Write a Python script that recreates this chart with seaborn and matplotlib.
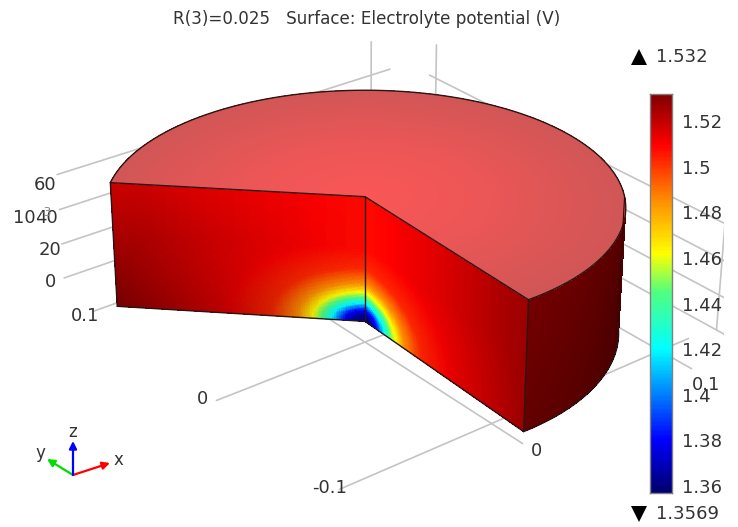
import numpy as np
import matplotlib
matplotlib.use('Agg')
import matplotlib.pyplot as plt
import seaborn as sns
from matplotlib.colors import LinearSegmentedColormap, Normalize

# value range and colour bar
v_min = 1.3569
v_max = 1.532
cbar_ticks = [1.36, 1.38, 1.40, 1.42, 1.44, 1.46, 1.48, 1.50, 1.52]
cbar_labels = ['1.36', '1.38', '1.4', '1.42', '1.44', '1.46', '1.48', '1.5', '1.52']

# rainbow table
rainbow_values = [1.3569, 1.380, 1.420, 1.445, 1.462, 1.485, 1.510, 1.532]
rainbow_colors = ['#00006e', '#0000ff', '#00ffff', '#50ff80', '#ffff00',
                  '#ff9000', '#ff0000', '#800000']

# electrolyte potential against distance from the electrode
dist_knots = [0, .005, .0095, .0145, .019, .024, .030, .042, .065, .085, .114]
pot_knots = [1.357, 1.365, 1.385, 1.42, 1.445, 1.465, 1.485, 1.503, 1.511, 1.514, 1.518]

# top face red level against radius
top_r_knots = [0, .05, .114]
top_red_knots = [250, 236, 208]

# geometry (m)
radius = 0.114
z_bottom = 0.003
z_top = 0.073
z_floor = -0.009

# grid
z_ticks = [0, .02, .04, .06]
floor_y = [.1, 0, -.088]
floor_x = [0, .1]
wall_pos = 0.123

elev, azim = 28, 232
lim = 0.125
z_lim = (-0.012, 0.098)
world_per_unit = 5.64

sns.set_theme(style='white')
plt.rcParams['font.family'] = 'DejaVu Sans'
text_col = '#333333'
grid_col = '#c4c4c4'

cmap = LinearSegmentedColormap.from_list(
    'rainbow', [((v - v_min) / (v_max - v_min), c)
                for v, c in zip(rainbow_values, rainbow_colors)])
norm = Normalize(v_min, v_max)

W, H = 738, 527
fig = plt.figure(figsize=(W / 100, H / 100), dpi=100)
# square 3D axes placed so the box centre lands on the plot centre
cx, cy = 365, 251
ax = fig.add_axes([(cx - .5135 * W) / W, (H - cy - .5135 * W) / H, 1, W / H],
                  projection='3d', computed_zorder=False)
ax.set_axis_off()
ax.patch.set_alpha(0)
ax.set_xlim(-lim, lim)
ax.set_ylim(-lim, lim)
ax.set_zlim(*z_lim)
box = np.array([2 * lim, 2 * lim, z_lim[1] - z_lim[0]]) * world_per_unit
box[2] *= 0.90
ax.set_box_aspect(box, zoom=np.linalg.norm(box) / 1.9057)
ax.view_init(elev=elev, azim=azim)
ax.set_proj_type('persp', focal_length=0.6)


def field(r, z):
    dz = np.minimum(1.4 * (z - z_bottom), .058)
    return np.interp(np.sqrt(r ** 2 + dz ** 2), dist_knots, pot_knots)


def shaded(values, shade):
    rgba = cmap(norm(values))
    rgba[..., :3] *= shade[..., None]
    return np.clip(rgba, 0, 1)


def surf(X, Y, Z, colors, order):
    ax.plot_surface(X, Y, Z, facecolors=colors, rstride=1, cstride=1,
                    linewidth=0, antialiased=False, shade=False, zorder=order)


# grid behind the solid
grid_kw = dict(color=grid_col, lw=1.2, zorder=1)
for z in z_ticks:
    ax.plot([-.083, .112], [wall_pos, wall_pos], [z, z], **grid_kw)
    ax.plot([wall_pos, wall_pos], [.105, -.14], [z, z], **grid_kw)
for y in floor_y:
    ax.plot([-.082, .118], [y, y], [z_floor] * 2, **grid_kw)
for x in floor_x:
    ax.plot([x, x], [.118, -.108], [z_floor] * 2, **grid_kw)
ax.plot([.1, .1], [wall_pos] * 2, [0, .08], **grid_kw)
ax.plot([wall_pos] * 2, [.1, .1], [0, .08], **grid_kw)
ax.plot([wall_pos] * 2, [-.1, -.1], [0, .08], **grid_kw)

# solid
theta_a = np.deg2rad(135)
theta_b = np.deg2rad(-92.5)
theta_t = np.deg2rad(azim - 270)

r = np.linspace(0, radius, 140)
z = np.linspace(z_bottom, z_top, 90)
R, Z = np.meshgrid(r, z)

# outer wall, only the part facing the viewer
th = np.linspace(theta_b, theta_t + .05, 60)
T, ZW = np.meshgrid(th, z)
wall_shade = np.interp(T, [theta_b, theta_t], [.9, .55]) * (.85 + .15 * (ZW - z_bottom) / (z_top - z_bottom))
surf(radius * np.cos(T), radius * np.sin(T), ZW,
     shaded(np.full(T.shape, v_max), wall_shade), 2)

# cut faces
left_shade = 1 - .42 * (R / radius) * (1 - (Z - z_bottom) / (z_top - z_bottom)) - .02
surf(R * np.cos(theta_a), R * np.sin(theta_a), Z, shaded(field(R, Z), left_shade), 3)
right_shade = 1 - .25 * (R / radius) ** 2
surf(R * np.cos(theta_b), R * np.sin(theta_b), Z, shaded(field(R, Z), right_shade), 3)

# top face
rt = np.linspace(0, radius, 40)
tht = np.linspace(theta_b, theta_a, 120)
RT, TT = np.meshgrid(rt, tht)
top_colors = np.zeros(RT.shape + (4,))
top_colors[..., 0] = np.interp(RT, top_r_knots, top_red_knots) / 255
top_colors[..., 1] = 86 / 255
top_colors[..., 2] = 86 / 255
top_colors[..., 3] = 1
surf(RT * np.cos(TT), RT * np.sin(TT), np.full(RT.shape, z_top), top_colors, 4)

# outlines
edge_kw = dict(color='#2a1515', lw=1.0, zorder=5)
arc = np.linspace(theta_b, theta_a, 200)
ax.plot(radius * np.cos(arc), radius * np.sin(arc), z_top, **edge_kw)
arc_low = np.linspace(theta_b, theta_t, 80)
ax.plot(radius * np.cos(arc_low), radius * np.sin(arc_low), z_bottom, **edge_kw)
for th_cut in (theta_a, theta_b):
    cut_x, cut_y = radius * np.cos(th_cut), radius * np.sin(th_cut)
    ax.plot([0, cut_x], [0, cut_y], [z_top, z_top], **edge_kw)
    ax.plot([0, cut_x], [0, cut_y], [z_bottom, z_bottom], **edge_kw)
    ax.plot([cut_x, cut_x], [cut_y, cut_y], [z_bottom, z_top], **edge_kw)
ax.plot([0, 0], [0, 0], [z_bottom, z_top], **edge_kw)
ax.plot([radius * np.cos(theta_t)] * 2, [radius * np.sin(theta_t)] * 2,
        [z_bottom, z_top], color='#3a0000', lw=.8, zorder=5)

# colour bar
n_rows = 350
gradient = np.linspace(v_max, v_min, n_rows).reshape(-1, 1)
cax = fig.add_axes([650 / W, (H - 493) / H, 22 / W, 399 / H], zorder=4)
sns.heatmap(gradient, ax=cax, cmap=cmap, vmin=v_min, vmax=v_max, cbar=False,
            xticklabels=False, yticklabels=False)
cax.set_yticks([(v_max - t) / (v_max - v_min) * n_rows for t in cbar_ticks])
cax.set_yticklabels(cbar_labels, rotation=0)
cax.tick_params(axis='y', left=True, right=True, labelleft=False, labelright=True,
                direction='in', length=3, width=1, color='#222222', pad=7,
                labelsize=13, labelcolor=text_col)
for spine in cax.spines.values():
    spine.set_visible(True)
    spine.set_color('#808080')
    spine.set_linewidth(1)

# overlay in image pixels for the annotations
over = fig.add_axes([0, 0, 1, 1], zorder=5)
over.set_xlim(0, W)
over.set_ylim(H, 0)
over.set_axis_off()
over.patch.set_alpha(0)

txt = dict(fontsize=13, color=text_col, ha='center', va='center')
over.text(367, 19, 'R(3)=0.025   Surface: Electrolyte potential (V)',
          **{**txt, 'fontsize': 12.1})
over.plot([639], [57], marker='^', ms=12, color='black', mew=0)
over.plot([639], [514], marker='v', ms=12, color='black', mew=0)
over.text(656, 57, '1.532', **{**txt, 'ha': 'left'})
over.text(656, 514, '1.3569', **{**txt, 'ha': 'left'})

for label, x, y in [('60', 45, 185), ('40', 46, 218), ('20', 50, 250), ('0', 51, 282),
                    ('0.1', 85, 316), ('0', 202, 399), ('-0.1', 330, 488),
                    ('0', 536, 451), ('0.1', 706, 385), ('10', 24, 218)]:
    over.text(x, y, label, **txt)
over.text(46, 212, '-3', fontsize=9, color='#888888', ha='center', va='center')

# orientation triad
origin = (73, 475)
for tip, col, name, pos in [((110, 463), '#ff0000', 'x', (118, 460)),
                            ((47, 459), '#00dd00', 'y', (40, 453)),
                            ((73, 441), '#0000ff', 'z', (73, 432))]:
    over.annotate('', xy=tip, xytext=origin,
                  arrowprops=dict(arrowstyle='-|>', color=col, lw=1.6,
                                  mutation_scale=11, shrinkA=0, shrinkB=0))
    over.text(pos[0], pos[1], name, **{**txt, 'fontsize': 12})

fig.savefig('out.png', dpi=100, facecolor='white')
